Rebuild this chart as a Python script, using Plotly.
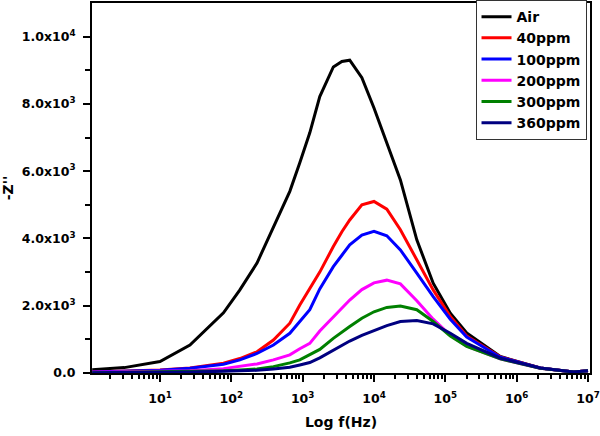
import plotly.graph_objects as go

# log10 of frequency (Hz) sample positions
log_f = [0.05, 0.5, 1.0, 1.42, 1.89, 2.12, 2.36, 2.59, 2.82, 2.96, 3.10, 3.24, 3.43, 3.55,
         3.66, 3.83, 4.0, 4.18, 4.37, 4.60, 4.83, 5.07, 5.30, 5.77, 6.33, 6.8, 7.0]
freq = [10 ** v for v in log_f]

# -Z'' values (units of 10^3)
z_air = [0.10, 0.16, 0.34, 0.83, 1.79, 2.47, 3.27, 4.35, 5.40, 6.25, 7.14, 8.22, 9.10, 9.26,
         9.30, 8.78, 7.88, 6.84, 5.74, 3.96, 2.67, 1.78, 1.19, 0.49, 0.15, 0.03, 0.07]
z_40 = [0.03, 0.05, 0.09, 0.15, 0.29, 0.43, 0.63, 0.98, 1.48, 2.02, 2.52, 3.00, 3.76, 4.20,
        4.55, 5.00, 5.10, 4.87, 4.26, 3.36, 2.47, 1.68, 1.10, 0.48, 0.15, 0.03, 0.07]
z_100 = [0.03, 0.05, 0.08, 0.14, 0.26, 0.39, 0.58, 0.83, 1.18, 1.53, 1.88, 2.50, 3.16, 3.50,
         3.81, 4.10, 4.21, 4.08, 3.66, 2.97, 2.27, 1.60, 1.07, 0.47, 0.15, 0.03, 0.07]
z_200 = [0.02, 0.03, 0.04, 0.07, 0.13, 0.19, 0.27, 0.39, 0.54, 0.72, 0.88, 1.25, 1.68, 1.93,
         2.17, 2.48, 2.68, 2.76, 2.65, 2.15, 1.60, 1.12, 0.80, 0.42, 0.14, 0.03, 0.07]
z_300 = [0.01, 0.02, 0.03, 0.04, 0.07, 0.09, 0.12, 0.19, 0.30, 0.39, 0.54, 0.70, 1.03, 1.20,
         1.38, 1.63, 1.82, 1.95, 1.99, 1.88, 1.53, 1.10, 0.79, 0.42, 0.14, 0.03, 0.07]
z_360 = [0.01, 0.01, 0.02, 0.03, 0.05, 0.06, 0.08, 0.12, 0.17, 0.24, 0.31, 0.45, 0.68, 0.82,
         0.95, 1.12, 1.26, 1.41, 1.53, 1.56, 1.46, 1.18, 0.88, 0.44, 0.15, 0.03, 0.07]

series_names = ["Air", "40ppm", "100ppm", "200ppm", "300ppm", "360ppm"]
series_vals = [z_air, z_40, z_100, z_200, z_300, z_360]
colors = ["#000000", "#ff0000", "#0000ff", "#ff00ff", "#008000", "#000080"]

y_tickvals = [0, 2000, 4000, 6000, 8000, 10000]
y_ticktext = ["0.0", "2.0x10<sup>3</sup>", "4.0x10<sup>3</sup>", "6.0x10<sup>3</sup>",
              "8.0x10<sup>3</sup>", "1.0x10<sup>4</sup>"]
y_minor = [1000, 3000, 5000, 7000, 9000]
x_tickvals = [10, 100, 1000, 10000, 100000, 1000000, 10000000]
x_ticktext = ["10<sup>1</sup>", "10<sup>2</sup>", "10<sup>3</sup>", "10<sup>4</sup>",
              "10<sup>5</sup>", "10<sup>6</sup>", "10<sup>7</sup>"]
x_minor = [m * 10 ** k for k in range(0, 7) for m in range(2, 10)]

fig = go.Figure()
for name, vals, col in zip(series_names, series_vals, colors):
    fig.add_trace(go.Scatter(
        x=freq, y=[v * 1000 for v in vals], name="<b>" + name + "</b>", mode="lines",
        line=dict(color=col, width=3),
    ))

font_family = "DejaVu Sans, Verdana, sans-serif"
fig.update_layout(
    template="none",
    width=600, height=436,
    margin=dict(l=92, r=10, t=3, b=63, autoexpand=False),
    paper_bgcolor="white", plot_bgcolor="white",
    font=dict(family=font_family, color="black", size=13),
    showlegend=True,
    legend=dict(
        x=0.993, y=1.008, xanchor="right", yanchor="top",
        bgcolor="white", bordercolor="#333333", borderwidth=1,
        font=dict(family=font_family, size=14, color="black"),
        tracegroupgap=0,
    ),
)
fig.update_xaxes(
    type="log", range=[0.047, 7.028],
    tickmode="array", tickvals=x_tickvals, ticktext=["<b>" + t + "</b>" for t in x_ticktext],
    ticks="outside", ticklen=7, tickwidth=2, tickcolor="black",
    minor=dict(tickmode="array", tickvals=x_minor, ticks="outside", ticklen=4,
               tickwidth=1.5, tickcolor="black", showgrid=False),
    showline=True, linecolor="black", linewidth=2, mirror=True,
    showgrid=False, zeroline=False, ticklabelstandoff=6,
    tickfont=dict(family=font_family, size=12.5),
    title=dict(text="<b>Log f(Hz)</b>", font=dict(family=font_family, size=14), standoff=12),
)
fig.update_yaxes(
    range=[0, 11000],
    tickmode="array", tickvals=y_tickvals, ticktext=["<b>" + t + "</b>" for t in y_ticktext],
    ticks="outside", ticklen=7, tickwidth=2, tickcolor="black",
    minor=dict(tickmode="array", tickvals=y_minor, ticks="outside", ticklen=5,
               tickwidth=1.5, tickcolor="black", showgrid=False),
    showline=True, linecolor="black", linewidth=2, mirror=True,
    showgrid=False, zeroline=False, ticklabelstandoff=5,
    tickfont=dict(family=font_family, size=12.5),
    title=dict(text="<b>-Z''</b>", font=dict(family=font_family, size=14), standoff=10),
)

fig.write_html("out.html", config={"displayModeBar": False},
               post_script="document.body.style.margin='0';")
